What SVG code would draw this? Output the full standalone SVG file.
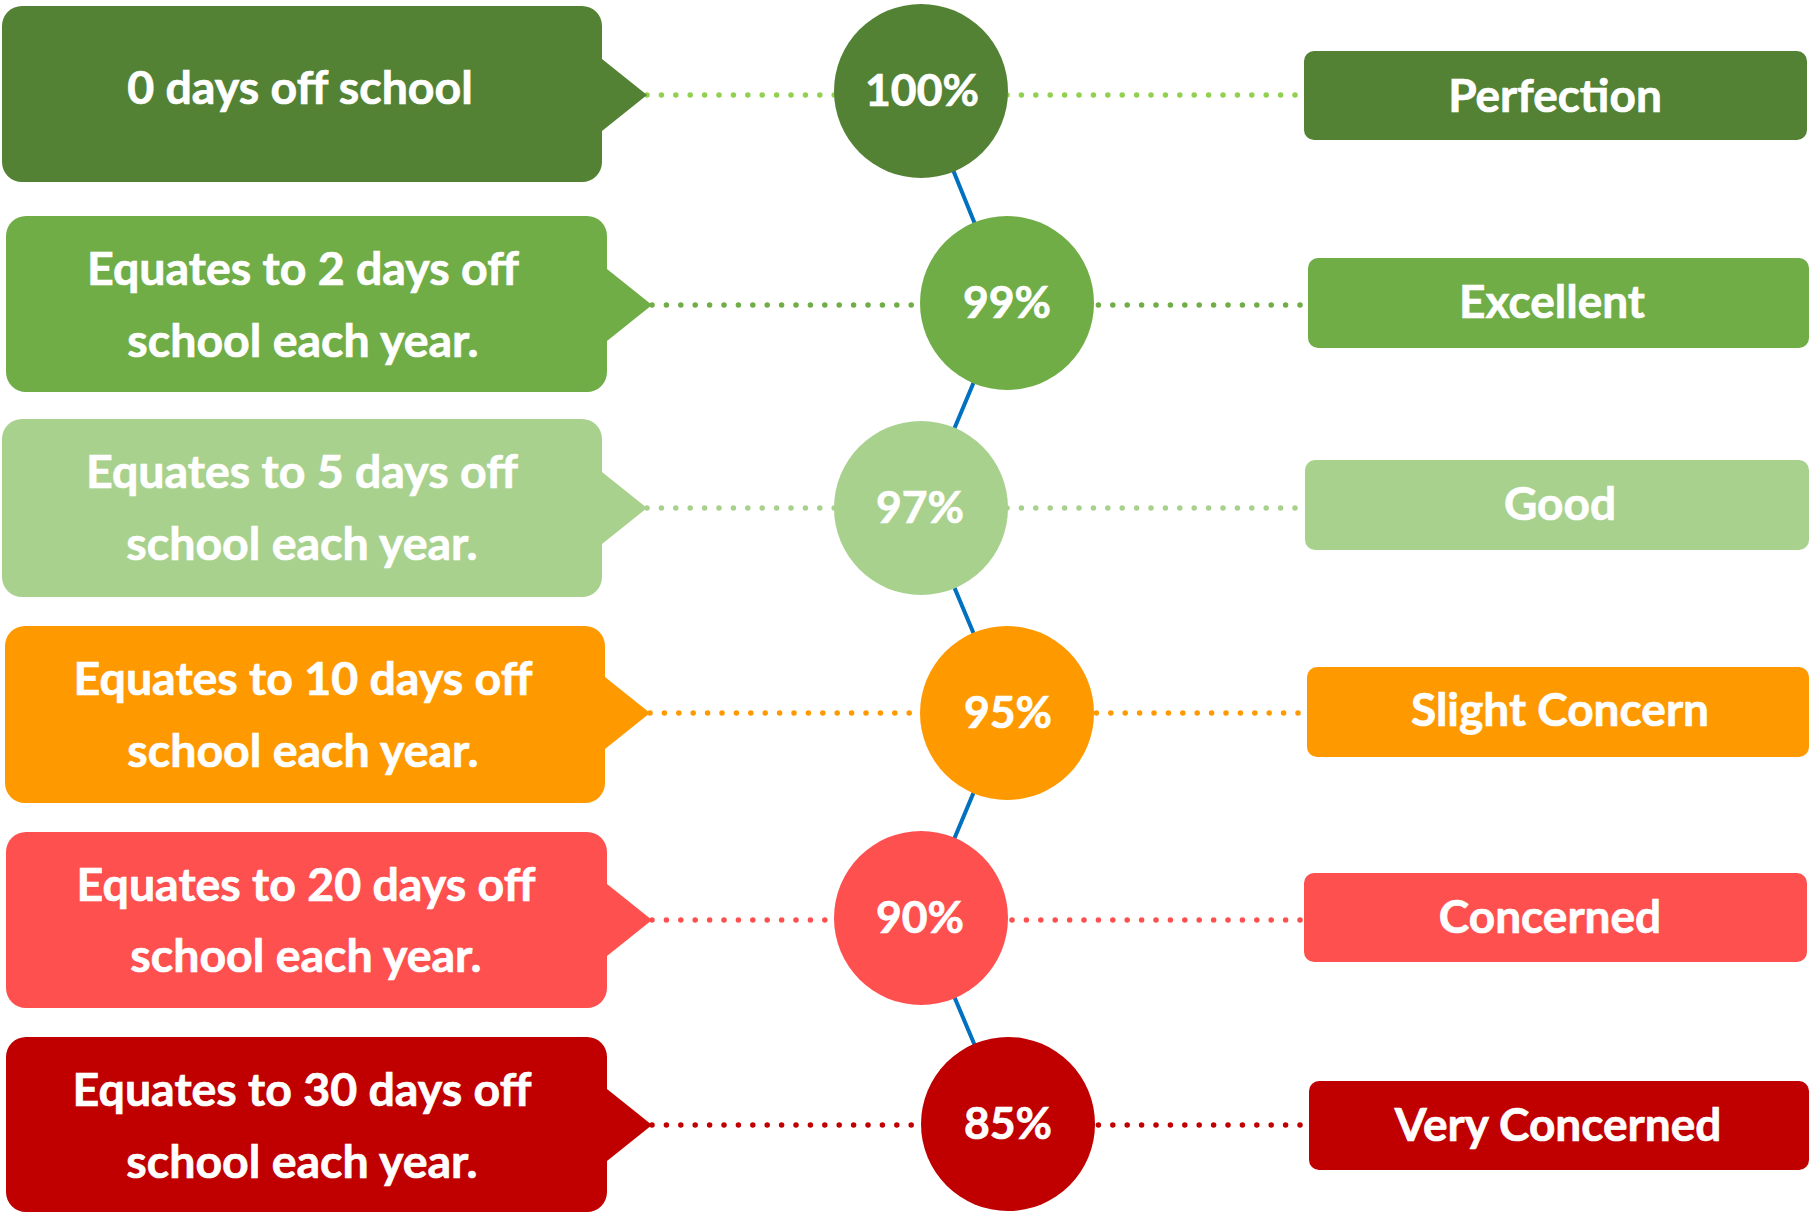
<svg xmlns="http://www.w3.org/2000/svg" width="1809" height="1215" viewBox="0 0 1809 1215">
<style>
text{font-family:Lato,"Open Sans","Liberation Sans",sans-serif;font-weight:700;fill:#fff;stroke:#fff;stroke-width:0.7;text-anchor:middle}
.t{font-size:46.5px}
.p{font-size:44.5px}
.l{font-size:46px}
.dot{fill:none;stroke-width:5.5;stroke-linecap:round;stroke-dasharray:0 14.4}
.zig{fill:none;stroke:#0070C0;stroke-width:4}
.c1{fill:#548235}.c2{fill:#70AD47}.c3{fill:#A9D18E}.c4{fill:#FF9900}.c5{fill:#FF5050}.c6{fill:#C00000}
</style>
<rect width="1809" height="1215" fill="#fff"/>
<g id="connectors">
<path class="dot" stroke="#92D050" d="M647 95H1304"/>
<path class="dot" stroke="#70AD47" d="M652 305H1308"/>
<path class="dot" stroke="#A9D18E" d="M647 508H1305"/>
<path class="dot" stroke="#FF9900" d="M650 713H1307"/>
<path class="dot" stroke="#FF5050" d="M652 920H1304"/>
<path class="dot" stroke="#C00000" d="M652 1125H1309"/>
<path class="zig" d="M921 91L1007 303L921 508L1007 713L921 918L1008 1124"/>
</g>
<g id="callout1"><path class="c1" d="M22 6H582A20 20 0 0 1 602 26V59L647 95L602 131V162A20 20 0 0 1 582 182H22A20 20 0 0 1 2 162V26A20 20 0 0 1 22 6Z"/><text class="t" x="300" y="104">0 days off school</text></g>
<g id="callout2"><path class="c2" d="M26 216H587A20 20 0 0 1 607 236V269L652 305L607 341V372A20 20 0 0 1 587 392H26A20 20 0 0 1 6 372V236A20 20 0 0 1 26 216Z"/><text class="t" x="303" y="285">Equates to 2 days off</text><text class="t" x="303" y="357">school each year.</text></g>
<g id="callout3"><path class="c3" d="M22 419H582A20 20 0 0 1 602 439V472L647 508L602 544V577A20 20 0 0 1 582 597H22A20 20 0 0 1 2 577V439A20 20 0 0 1 22 419Z"/><text class="t" x="302" y="488">Equates to 5 days off</text><text class="t" x="302" y="560">school each year.</text></g>
<g id="callout4"><path class="c4" d="M25 626H585A20 20 0 0 1 605 646V677L650 713L605 749V783A20 20 0 0 1 585 803H25A20 20 0 0 1 5 783V646A20 20 0 0 1 25 626Z"/><text class="t" x="303" y="695">Equates to 10 days off</text><text class="t" x="303" y="767">school each year.</text></g>
<g id="callout5"><path class="c5" d="M26 832H587A20 20 0 0 1 607 852V884L652 920L607 956V988A20 20 0 0 1 587 1008H26A20 20 0 0 1 6 988V852A20 20 0 0 1 26 832Z"/><text class="t" x="306" y="901">Equates to 20 days off</text><text class="t" x="306" y="972">school each year.</text></g>
<g id="callout6"><path class="c6" d="M26 1037H587A20 20 0 0 1 607 1057V1089L652 1125L607 1161V1192A20 20 0 0 1 587 1212H26A20 20 0 0 1 6 1192V1057A20 20 0 0 1 26 1037Z"/><text class="t" x="302" y="1106">Equates to 30 days off</text><text class="t" x="302" y="1178">school each year.</text></g>
<g id="circle1"><circle class="c1" cx="921" cy="91" r="87"/><text class="p" x="922" y="106">100%</text></g>
<g id="circle2"><circle class="c2" cx="1007" cy="303" r="87"/><text class="p" x="1007" y="318">99%</text></g>
<g id="circle3"><circle class="c3" cx="921" cy="508" r="87"/><text class="p" x="920" y="523">97%</text></g>
<g id="circle4"><circle class="c4" cx="1007" cy="713" r="87"/><text class="p" x="1008" y="728">95%</text></g>
<g id="circle5"><circle class="c5" cx="921" cy="918" r="87"/><text class="p" x="920" y="933">90%</text></g>
<g id="circle6"><circle class="c6" cx="1008" cy="1124" r="87"/><text class="p" x="1008" y="1139">85%</text></g>
<g id="label1"><rect class="c1" x="1304" y="51" width="503" height="89" rx="10"/><text class="l" x="1555" y="112">Perfection</text></g>
<g id="label2"><rect class="c2" x="1308" y="258" width="501" height="90" rx="10"/><text class="l" x="1552" y="318">Excellent</text></g>
<g id="label3"><rect class="c3" x="1305" y="460" width="504" height="90" rx="10"/><text class="l" x="1560" y="520">Good</text></g>
<g id="label4"><rect class="c4" x="1307" y="667" width="502" height="90" rx="10"/><text class="l" x="1560" y="726">Slight Concern</text></g>
<g id="label5"><rect class="c5" x="1304" y="873" width="503" height="89" rx="10"/><text class="l" x="1550" y="933">Concerned</text></g>
<g id="label6"><rect class="c6" x="1309" y="1081" width="500" height="89" rx="10"/><text class="l" x="1558" y="1141">Very Concerned</text></g>
</svg>
